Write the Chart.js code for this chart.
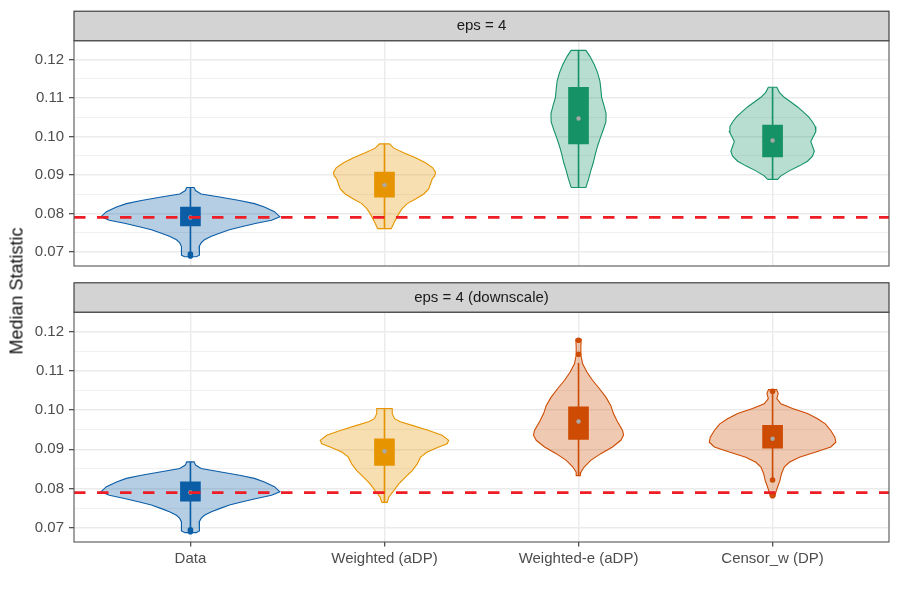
<!DOCTYPE html>
<html>
<head>
<meta charset="utf-8">
<script src="https://cdn.jsdelivr.net/npm/chart.js@4.4.1/dist/chart.umd.min.js"></script>
<style>
  body { margin: 0; background: #fff; width: 900px; height: 600px; position: relative; overflow: hidden;
         font-family: "Liberation Sans", Arial, sans-serif; }
  #top { position: absolute; left: 0; top: 0; width: 900px; height: 280px; }
  #bot { position: absolute; left: 0; top: 272px; width: 900px; height: 328px; }
  #ytitle { position: absolute; left: 17px; top: 291px; transform: translate(-50%, -50%) rotate(-90deg);
            font-size: 18px; font-weight: 400; color: #111; white-space: nowrap; }
</style>
</head>
<body>
<div id="top"><canvas id="c1"></canvas></div>
<div id="bot"><canvas id="c2"></canvas></div>
<div id="ytitle">Median Statistic</div>
<script>
// --- Data ---
const categories = ['Data', 'Weighted (aDP)', 'Weighted-e (aDP)', 'Censor_w (DP)'];
const panelTitles = ['eps = 4', 'eps = 4 (downscale)'];
const yMajor = [0.07, 0.08, 0.09, 0.10, 0.11, 0.12];
const yLabels = ['0.07', '0.08', '0.09', '0.10', '0.11', '0.12'];
const yMinor = [0.075, 0.085, 0.095, 0.105, 0.115];
const refLine = 0.079;

// violin outlines: y values and half widths (in category units), bottom to top
const dataY = [0.0688, 0.0692, 0.0698, 0.0707, 0.0715, 0.0724, 0.0732, 0.0741, 0.0749, 0.0758, 0.0766, 0.0775, 0.0783, 0.0792, 0.0805, 0.0817, 0.0826, 0.0834, 0.0843, 0.0851, 0.0860, 0.0868];
const dataW = [0.030, 0.045, 0.048, 0.046, 0.045, 0.055, 0.072, 0.108, 0.150, 0.201, 0.263, 0.340, 0.418, 0.461, 0.433, 0.381, 0.330, 0.253, 0.150, 0.055, 0.026, 0.019];

const wTopY = [0.0761, 0.0775, 0.0787, 0.0800, 0.0813, 0.0826, 0.0838, 0.0851, 0.0864, 0.0877, 0.0890, 0.0898, 0.0907, 0.0919, 0.0932, 0.0945, 0.0958, 0.0970, 0.0981];
const wTopW = [0.035, 0.048, 0.060, 0.074, 0.091, 0.117, 0.160, 0.203, 0.228, 0.237, 0.246, 0.259, 0.263, 0.249, 0.211, 0.160, 0.099, 0.048, 0.026];

const weTopY = [0.0868, 0.0890, 0.0911, 0.0932, 0.0953, 0.0975, 0.0996, 0.1017, 0.1038, 0.1060, 0.1081, 0.1102, 0.1124, 0.1145, 0.1166, 0.1187, 0.1209, 0.1224];
const weTopW = [0.038, 0.052, 0.063, 0.076, 0.086, 0.098, 0.112, 0.127, 0.141, 0.142, 0.131, 0.119, 0.115, 0.110, 0.098, 0.081, 0.058, 0.038];

const cTopY = [0.0889, 0.0898, 0.0911, 0.0924, 0.0936, 0.0949, 0.0962, 0.0975, 0.0987, 0.1000, 0.1013, 0.1026, 0.1038, 0.1051, 0.1064, 0.1077, 0.1090, 0.1102, 0.1115, 0.1128];
const cTopW = [0.026, 0.043, 0.086, 0.138, 0.180, 0.206, 0.215, 0.206, 0.197, 0.210, 0.223, 0.220, 0.206, 0.186, 0.158, 0.129, 0.094, 0.060, 0.035, 0.022];

const wBotY = [0.0765, 0.0778, 0.0795, 0.0812, 0.0829, 0.0846, 0.0863, 0.0880, 0.0893, 0.0906, 0.0914, 0.0923, 0.0936, 0.0948, 0.0961, 0.0970, 0.0978, 0.0991, 0.1004];
const wBotW = [0.014, 0.022, 0.048, 0.074, 0.108, 0.143, 0.169, 0.186, 0.220, 0.280, 0.323, 0.331, 0.297, 0.228, 0.143, 0.082, 0.052, 0.040, 0.040];

const weBotY = [0.0833, 0.0842, 0.0855, 0.0872, 0.0889, 0.0906, 0.0923, 0.0936, 0.0948, 0.0970, 0.0991, 0.1012, 0.1033, 0.1055, 0.1076, 0.1097, 0.1118, 0.1140, 0.1161, 0.1180];
const weBotW = [0.009, 0.012, 0.029, 0.063, 0.115, 0.175, 0.218, 0.232, 0.227, 0.201, 0.180, 0.166, 0.141, 0.107, 0.072, 0.043, 0.021, 0.012, 0.012, 0.014];

const cBotY = [0.0780, 0.0791, 0.0804, 0.0821, 0.0838, 0.0855, 0.0867, 0.0880, 0.0893, 0.0906, 0.0918, 0.0931, 0.0948, 0.0965, 0.0978, 0.0991, 0.1004, 0.1016, 0.1029, 0.1042, 0.1052];
const cBotW = [0.012, 0.017, 0.026, 0.038, 0.046, 0.060, 0.086, 0.138, 0.223, 0.300, 0.326, 0.321, 0.300, 0.272, 0.232, 0.180, 0.103, 0.043, 0.022, 0.029, 0.021];

// box stats per category
const q1Top  = [0.0768, 0.0843, 0.0981, 0.0947];
const medTop = [0.0790, 0.0874, 0.1047, 0.0990];
const q3Top  = [0.0817, 0.0908, 0.1128, 0.1030];
const loTop  = [0.0700, 0.0761, 0.0868, 0.0889];
const hiTop  = [0.0868, 0.0981, 0.1224, 0.1128];
const outTop = [[0.0695, 0.0690], [], [], []];

const q1Bot  = [0.0768, 0.0859, 0.0925, 0.0903];
const medBot = [0.0790, 0.0895, 0.0971, 0.0927];
const q3Bot  = [0.0817, 0.0927, 0.1008, 0.0961];
const loBot  = [0.0700, 0.0765, 0.0833, 0.0826];
const hiBot  = [0.0868, 0.1004, 0.1120, 0.1042];
const outBot = [[0.0695, 0.0690], [], [0.1142, 0.1178], [0.1048, 0.0822, 0.0782]];

// --- Styles ---
const FONT = '"Liberation Sans", Arial, sans-serif';
const blue = '#0B5DA6', orange = '#E69500', green = '#159266', rust = '#CD4B02';
const colorsTop = [blue, orange, green, green];
const colorsBot = [blue, orange, rust, rust];

function alpha(hex, a) {
  const n = parseInt(hex.slice(1), 16);
  return `rgba(${n >> 16},${(n >> 8) & 255},${n & 255},${a})`;
}
const isMajor = v => yMajor.some(m => Math.abs(m - v) < 1e-9);

function panelDatasets(profY, profW, q1, med, q3, lo, hi, out, colors) {
  const sets = [];
  categories.forEach((cat, i) => {
    const cx = i + 1;
    const left = profY[i].map((y, k) => ({ x: cx - profW[i][k], y }));
    const right = profY[i].map((y, k) => ({ x: cx + profW[i][k], y })).reverse();
    sets.push({
      type: 'line', data: left.concat(right, [left[0]]),
      borderColor: colors[i], borderWidth: 1.1, backgroundColor: alpha(colors[i], 0.3),
      fill: 'shape', pointRadius: 0, tension: 0, order: 5
    });
    sets.push({
      type: 'line', data: [{ x: cx, y: lo[i] }, { x: cx, y: hi[i] }],
      borderColor: colors[i], borderWidth: 1.6, pointRadius: 0, fill: false, order: 4
    });
    if (out[i].length) {
      sets.push({
        type: 'scatter', data: out[i].map(y => ({ x: cx, y })),
        backgroundColor: colors[i], borderWidth: 0, pointRadius: 2.8, order: 2
      });
    }
  });
  sets.push({
    type: 'bar', data: categories.map((c, i) => ({ x: i + 1, y: [q1[i], q3[i]] })),
    backgroundColor: colors, borderWidth: 0, barThickness: 20, order: 3
  });
  sets.push({
    type: 'scatter', data: med.map((m, i) => ({ x: i + 1, y: m })),
    backgroundColor: '#A9A9A9', borderWidth: 0, pointRadius: 2.2, order: 1
  });
  sets.push({
    type: 'line', data: [{ x: 0.4, y: refLine }, { x: 4.6, y: refLine }],
    borderColor: '#EE1C24', borderWidth: 2.8, borderDash: [11.5, 11.5],
    pointRadius: 0, fill: false, order: 0
  });
  return sets;
}

function yScale() {
  return {
    type: 'linear', min: 0.0664, max: 0.1249,
    afterBuildTicks: s => { s.ticks = yMajor.concat(yMinor).sort((a, b) => a - b).map(v => ({ value: v })); },
    afterFit: s => { s.width = 74; },
    ticks: {
      autoSkip: false, padding: 5, color: '#4D4D4D', font: { family: FONT, size: 15 },
      callback: v => { const i = yMajor.findIndex(m => Math.abs(m - v) < 1e-9); return i < 0 ? '' : yLabels[i]; }
    },
    grid: {
      color: '#EBEBEB',
      lineWidth: c => (c.tick && isMajor(c.tick.value)) ? 1.4 : 0.7,
      tickLength: 5,
      tickColor: c => (c.tick && isMajor(c.tick.value)) ? '#333333' : 'rgba(0,0,0,0)',
      tickWidth: 1.1
    },
    border: { display: false }
  };
}

function xScale(showLabels) {
  return {
    type: 'linear', min: 0.4, max: 4.6, offset: false,
    afterBuildTicks: s => { s.ticks = categories.map((c, i) => ({ value: i + 1 })); },
    afterFit: s => { s.height = showLabels ? 58 : 0; },
    ticks: {
      display: showLabels, autoSkip: false, maxRotation: 0, padding: 3,
      color: '#4D4D4D', font: { family: FONT, size: 15 },
      callback: v => categories[Math.round(v) - 1]
    },
    grid: {
      offset: false, color: '#EBEBEB', lineWidth: 1.4, drawTicks: showLabels,
      tickLength: 4.5, tickColor: '#333333', tickWidth: 1.1
    },
    border: { display: false }
  };
}

// strip on top of each panel plus panel border
const panelFrame = {
  id: 'panelFrame',
  afterDraw(chart, args, opts) {
    const { ctx, chartArea: a } = chart;
    const h = 29.5, w = a.right - a.left;
    ctx.save();
    ctx.fillStyle = '#D3D3D3';
    ctx.fillRect(a.left, a.top - h, w, h);
    ctx.strokeStyle = '#333333';
    ctx.lineWidth = 1.1;
    ctx.strokeRect(a.left, a.top - h, w, h);
    ctx.strokeStyle = '#555555';
    ctx.strokeRect(a.left, a.top, w, a.bottom - a.top);
    ctx.fillStyle = '#1A1A1A';
    ctx.font = '15px ' + FONT;
    ctx.textAlign = 'center';
    ctx.textBaseline = 'middle';
    ctx.fillText(opts.title, (a.left + a.right) / 2, a.top - h / 2);
    ctx.restore();
  }
};

function makeChart(id, datasets, title, showLabels, padding) {
  return new Chart(document.getElementById(id), {
    type: 'scatter',
    data: { datasets },
    options: {
      responsive: true, maintainAspectRatio: false, animation: false,
      layout: { padding },
      plugins: { legend: { display: false }, tooltip: { enabled: false }, panelFrame: { title } },
      scales: { x: xScale(showLabels), y: yScale() }
    },
    plugins: [panelFrame]
  });
}

makeChart('c1',
  panelDatasets([dataY, wTopY, weTopY, cTopY], [dataW, wTopW, weTopW, cTopW], q1Top, medTop, q3Top, loTop, hiTop, outTop, colorsTop),
  panelTitles[0], false, { top: 40.7, right: 11, bottom: 10, left: 0 });

makeChart('c2',
  panelDatasets([dataY, wBotY, weBotY, cBotY], [dataW, wBotW, weBotW, cBotW], q1Bot, medBot, q3Bot, loBot, hiBot, outBot, colorsBot),
  panelTitles[1], true, { top: 40.3, right: 11, bottom: 0, left: 0 });
</script>
</body>
</html>
